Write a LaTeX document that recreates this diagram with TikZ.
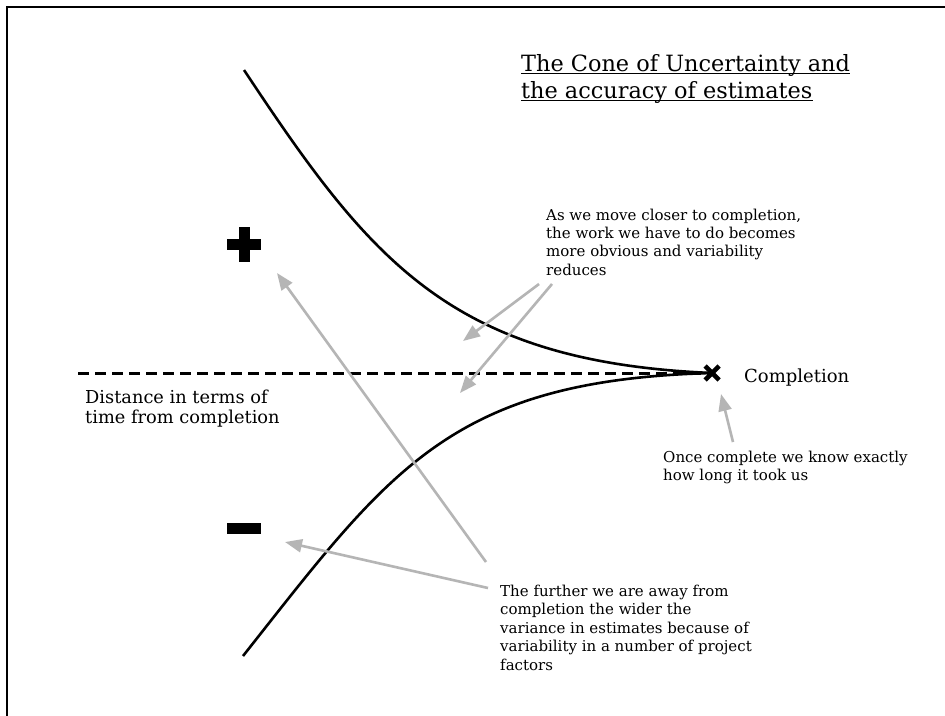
\documentclass[tikz,border=0pt]{standalone}
\usepackage{fontspec}
\setmainfont{DejaVu Serif}
\usetikzlibrary{arrows.meta,calc}
\definecolor{pointer}{HTML}{B5B5B5}
\begin{document}
\begin{tikzpicture}[x=1pt,y=-1pt,
  note/.style={anchor=base west,inner sep=0pt,align=left,font=\fontsize{15}{18.4}\selectfont},
  heading/.style={anchor=base west,inner sep=0pt,font=\fontsize{22.4}{27}\selectfont},
  rulebelow/.style={line width=1.8pt},
  cone/.style={line width=2.6pt,black},
  axis/.style={line width=3pt,dash pattern=on 11pt off 6pt},
  hint/.style={pointer,line width=2.6pt,-{Triangle[length=17pt,width=13pt]}},
  markbar/.style={fill=black}]
\useasboundingbox (0,0) rectangle (945,715);
\fill[white] (0,0) rectangle (945,715);
% frame
\draw[line width=2.2pt] (7,716) -- (7,7) -- (946,7);

% underlined title
\node[heading] (title1) at (521,71) {The Cone of Uncertainty and};
\node[heading] (title2) at (521,98) {the accuracy of estimates};
\draw[rulebelow] ($(title1.base west)+(0,2.5)$) -- ($(title1.base east)+(0,2.5)$);
\draw[rulebelow] ($(title2.base west)+(0,2.5)$) -- ($(title2.base east)+(0,2.5)$);

% completion point and time axis
\coordinate (done) at (712,373);
\coordinate (far) at (78,373);
\draw[axis] (far) -- (done);
\draw[cone] (244,70) .. controls (370,260) and (450,362) .. (done);
\draw[cone] (243,656) .. controls (390,470) and (450,380) .. (done);
\draw[line width=4.6pt] ($(done)+(-7,-7)$) -- ($(done)+(7,7)$);
\draw[line width=4.6pt] ($(done)+(-7,7)$) -- ($(done)+(7,-7)$);

% plus and minus signs
\fill[markbar] (227,239) rectangle (261,250);
\fill[markbar] (238.5,227) rectangle (249.5,262);
\fill[markbar] (227,523) rectangle (261,534);

% labels (anchored at the baseline of their last line)
\node[note,font=\fontsize{15}{18.3}\selectfont] (closer) at (546,275) {As we move closer to completion,\\the work we have to do becomes\\more obvious and variability\\reduces};
\node[note,font=\fontsize{17.8}{20}\selectfont] (dist) at (85,423) {Distance in terms of\\time from completion};
\node[note,font=\fontsize{18}{20}\selectfont] (comp) at (744,382) {Completion};
\node[note,font=\fontsize{15}{18}\selectfont] (once) at (663,480) {Once complete we know exactly\\how long it took us};
\node[note,font=\fontsize{15}{18.5}\selectfont] (further) at (500,670) {The further we are away from\\completion the wider the\\variance in estimates because of\\variability in a number of project\\factors};

% pointers
\coordinate (f1) at (486,562);
\coordinate (f2) at (488,588);
\coordinate (c1) at (539,284);
\coordinate (c2) at (552,284);
\coordinate (o1) at (733,442);
\draw[hint] (f1) -- (277,273);
\draw[hint] (f2) -- (285,542);
\draw[hint] (c1) -- (463,341);
\draw[hint] (c2) -- (460,393);
\draw[hint] (o1) -- (721,394);
\end{tikzpicture}
\end{document}
